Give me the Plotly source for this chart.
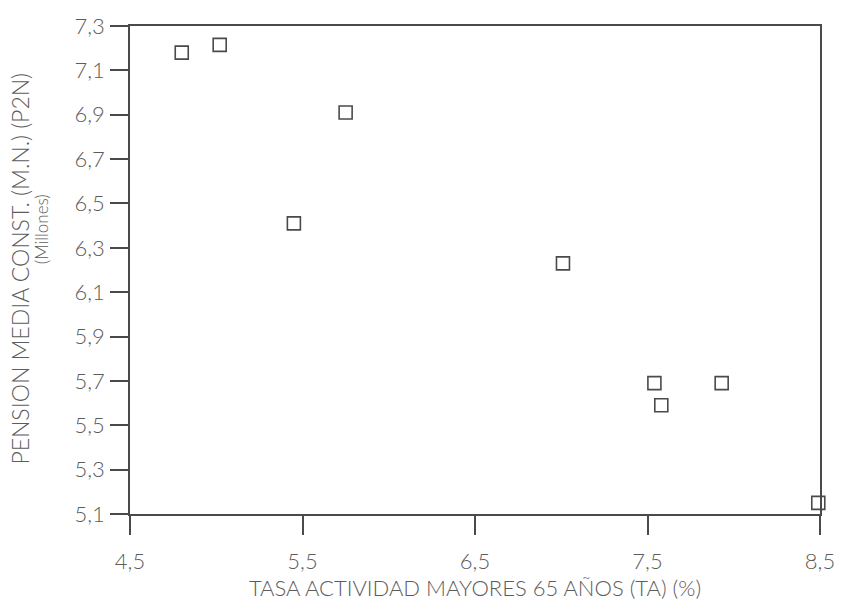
import plotly.graph_objects as go

# Tasa de actividad de mayores de 65 años (%) frente a pensión media constante (millones)
tasa_actividad = [4.80, 5.02, 5.75, 5.45, 7.01, 7.54, 7.58, 7.93, 8.49]
pension_media = [7.18, 7.215, 6.91, 6.41, 6.23, 5.69, 5.59, 5.69, 5.15]

x_ticks = [4.5, 5.5, 6.5, 7.5, 8.5]
y_ticks = [5.1, 5.3, 5.5, 5.7, 5.9, 6.1, 6.3, 6.5, 6.7, 6.9, 7.1, 7.3]

x_title = "TASA ACTIVIDAD MAYORES 65 AÑOS (TA) (%)"
y_title = "PENSION MEDIA CONST. (M.N.) (P2N)"
y_subtitle = "(Millones)"

ink = "#4a4a4a"
text_col = "#5c5c5c"
face = dict(family="Lato", weight=300, color=text_col)

fig = go.Figure(
    go.Scatter(
        x=tasa_actividad,
        y=pension_media,
        mode="markers",
        marker=dict(symbol="square-open", size=13, color=ink, line=dict(width=1.6, color=ink)),
        cliponaxis=False,
        showlegend=False,
    )
)

axis_common = dict(
    tickformat=".1f",
    ticks="outside",
    tickwidth=1.6,
    tickcolor=ink,
    showline=True,
    linecolor=ink,
    linewidth=1.6,
    mirror=True,
    showgrid=False,
    zeroline=False,
    tickfont=dict(size=22, **face),
)

fig.update_layout(
    width=847,
    height=611,
    margin=dict(l=130, r=23, t=20, b=97),
    paper_bgcolor="white",
    plot_bgcolor="white",
    separators=",.",
    font=face,
    xaxis=dict(
        range=[4.5, 8.5],
        tickvals=x_ticks,
        ticklen=19,
        ticklabelstandoff=8,
        title=dict(text=x_title, font=dict(size=22, **face), standoff=6),
        **axis_common,
    ),
    yaxis=dict(
        range=[5.1, 7.3],
        tickvals=y_ticks,
        ticklen=18,
        ticklabelstandoff=1,
        **axis_common,
    ),
    annotations=[
        dict(
            text=y_title, textangle=-90, showarrow=False,
            xref="paper", yref="paper", x=-0.160, y=0.502,
            xanchor="center", yanchor="middle",
            font=dict(size=23, **face),
        ),
        dict(
            text=y_subtitle, textangle=-90, showarrow=False,
            xref="paper", yref="paper", x=-0.128, y=0.583,
            xanchor="center", yanchor="middle",
            font=dict(size=17, **face),
        ),
    ],
)

fig.write_html("out.html")
